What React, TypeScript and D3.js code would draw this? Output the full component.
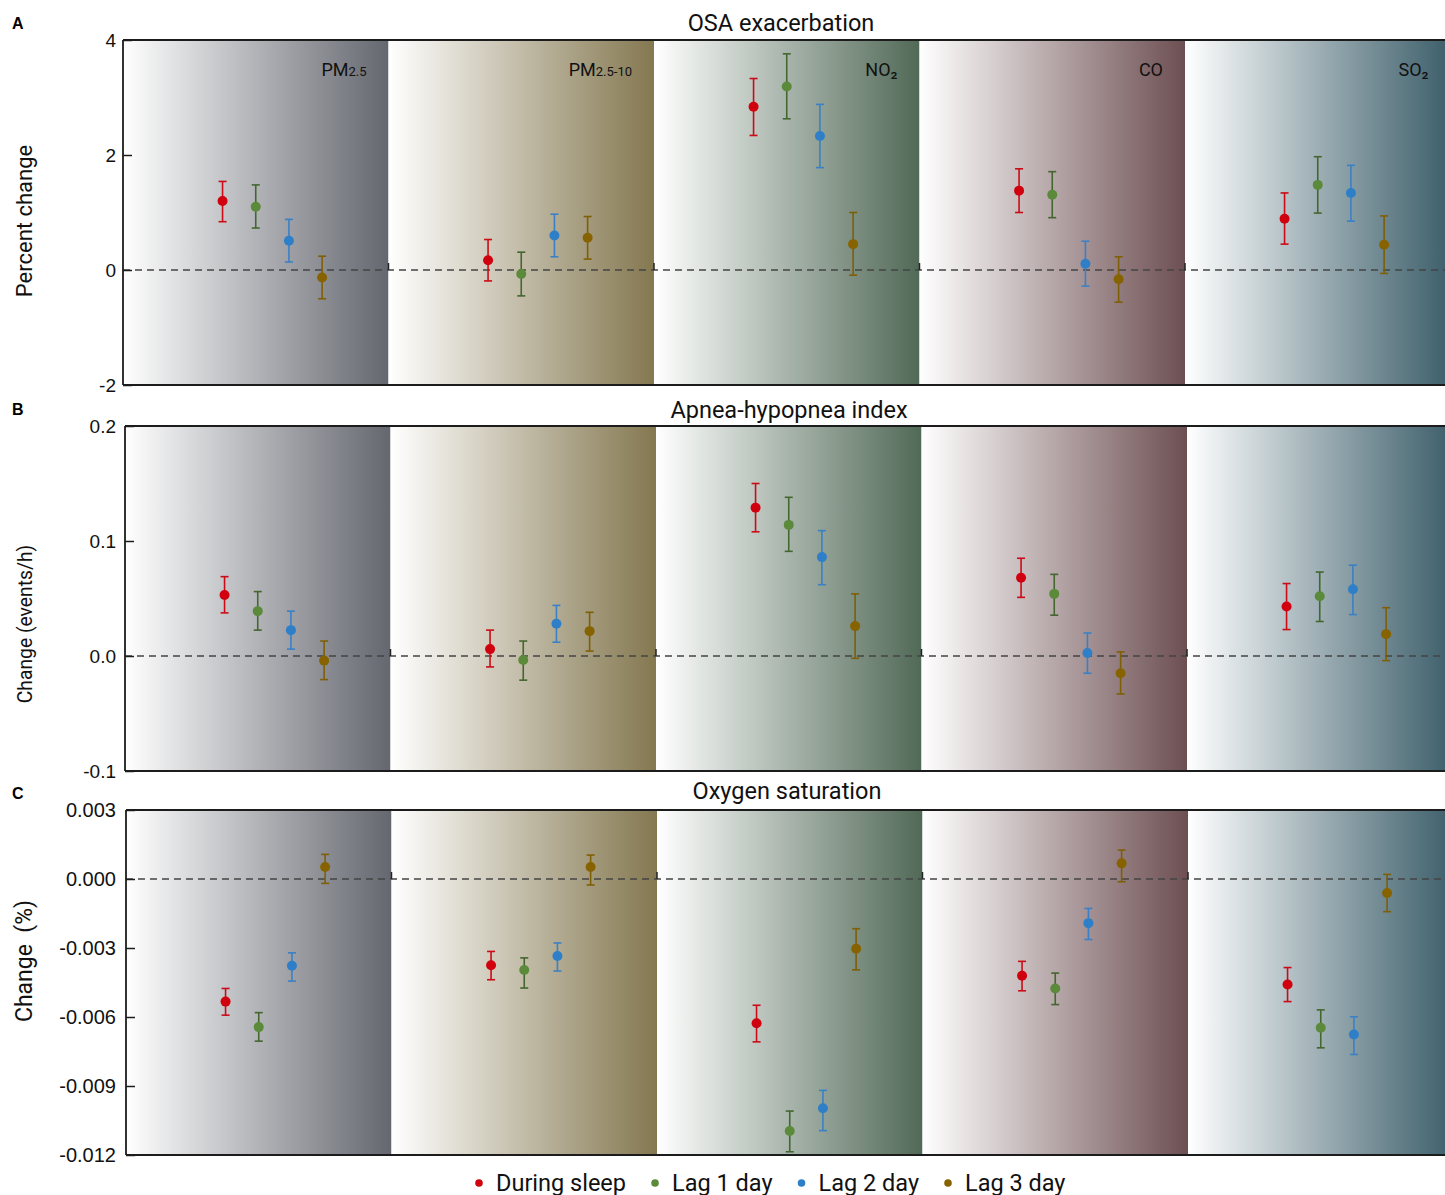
import React, { useRef, useEffect } from "react";
import * as d3 from "d3";

const pollutants = ["PM2.5", "PM2.5-10", "NO2", "CO", "SO2"];
const pollutantMain = ["PM", "PM", "NO", "CO", "SO"];
const pollutantSub = ["2.5", "2.5-10", "₂", "", "₂"];
const lags = ["During sleep", "Lag 1 day", "Lag 2 day", "Lag 3 day"];

// A: OSA exacerbation (percent change), rows = pollutant, cols = lag
const osaEst = [
  [1.2, 1.1, 0.51, -0.13],
  [0.17, -0.07, 0.6, 0.56],
  [2.84, 3.19, 2.33, 0.45],
  [1.38, 1.31, 0.11, -0.16],
  [0.89, 1.48, 1.34, 0.44],
];
const osaLow = [
  [0.84, 0.73, 0.14, -0.5],
  [-0.19, -0.45, 0.23, 0.19],
  [2.34, 2.63, 1.78, -0.09],
  [1.0, 0.91, -0.28, -0.56],
  [0.45, 0.99, 0.85, -0.06],
];
const osaHigh = [
  [1.54, 1.48, 0.88, 0.24],
  [0.53, 0.31, 0.97, 0.93],
  [3.33, 3.76, 2.88, 1.0],
  [1.76, 1.71, 0.5, 0.23],
  [1.34, 1.97, 1.82, 0.94],
];

// B: Apnea-hypopnea index (events/h)
const ahiEst = [
  [0.053, 0.039, 0.0225, -0.004],
  [0.006, -0.0035, 0.028, 0.0216],
  [0.129, 0.114, 0.086, 0.026],
  [0.068, 0.054, 0.0026, -0.015],
  [0.043, 0.052, 0.058, 0.019],
];
const ahiLow = [
  [0.0375, 0.0225, 0.006, -0.0205],
  [-0.0095, -0.021, 0.012, 0.0043],
  [0.108, 0.091, 0.062, -0.002],
  [0.051, 0.0355, -0.015, -0.033],
  [0.023, 0.03, 0.036, -0.004],
];
const ahiHigh = [
  [0.069, 0.056, 0.039, 0.013],
  [0.0225, 0.013, 0.044, 0.038],
  [0.15, 0.138, 0.109, 0.054],
  [0.085, 0.071, 0.02, 0.0035],
  [0.063, 0.073, 0.079, 0.042],
];

// C: Oxygen saturation (%)
const spo2Est = [
  [-0.00533, -0.00644, -0.00377, 0.00052],
  [-0.00375, -0.00396, -0.00335, 0.00052],
  [-0.00627, -0.01096, -0.00997, -0.00303],
  [-0.00421, -0.00476, -0.00192, 0.00068],
  [-0.00459, -0.00647, -0.00676, -0.00061],
];
const spo2Low = [
  [-0.00592, -0.00705, -0.00444, -0.00019],
  [-0.00438, -0.00474, -0.004, -0.00026],
  [-0.00708, -0.01186, -0.01094, -0.00395],
  [-0.00486, -0.00546, -0.00263, -0.00012],
  [-0.00533, -0.00734, -0.00763, -0.00142],
];
const spo2High = [
  [-0.00476, -0.00581, -0.00321, 0.00107],
  [-0.00315, -0.00343, -0.00278, 0.00104],
  [-0.00549, -0.01009, -0.00919, -0.00216],
  [-0.00358, -0.00409, -0.00128, 0.00126],
  [-0.00385, -0.00569, -0.00599, 0.0002],
];

const osaTicks = [-2, 0, 2, 4];
const osaTickLabels = ["-2", "0", "2", "4"];
const ahiTicks = [-0.1, 0, 0.1, 0.2];
const ahiTickLabels = ["-0.1", "0.0", "0.1", "0.2"];
const spo2Ticks = [-0.012, -0.009, -0.006, -0.003, 0, 0.003];
const spo2TickLabels = ["-0.012", "-0.009", "-0.006", "-0.003", "0.000", "0.003"];

const bandColors = ["#64676f", "#847850", "#516957", "#6d4f52", "#3c5e6a"];
const dotColors = ["#d0000f", "#5a8a3a", "#2f7fc8", "#876300"];
const barColors = ["#cc0b17", "#44662f", "#3a80c6", "#7f5f06"];

const W = 1445;
const H = 1195;
const BAND_W = 265.5;
const PANEL_H = 345;

const FONT = "Roboto, 'Liberation Sans', sans-serif";
const TICK_FONT = "'Liberation Sans', Arial, sans-serif";

const panels = [
  {
    key: "A", title: "OSA exacerbation", ylab: "Percent change", ylabSize: 22, ylabY: 221,
    left: 123, top: 40, titleY: 31, titleX: 781, domain: [-2, 4], ticks: osaTicks, tickLabels: osaTickLabels,
    est: osaEst, low: osaLow, high: osaHigh, showBands: true,
  },
  {
    key: "B", title: "Apnea-hypopnea index", ylab: "Change (events/h)", ylabSize: 19.3, ylabY: 624,
    left: 125, top: 426, titleY: 418, titleX: 789, domain: [-0.1, 0.2], ticks: ahiTicks, tickLabels: ahiTickLabels,
    est: ahiEst, low: ahiLow, high: ahiHigh, showBands: false,
  },
  {
    key: "C", title: "Oxygen saturation", ylab: "Change  (%)", ylabSize: 23, ylabY: 961,
    left: 126, top: 810, titleY: 799, titleX: 787, domain: [-0.012, 0.003], ticks: spo2Ticks, tickLabels: spo2TickLabels,
    est: spo2Est, low: spo2Low, high: spo2High, showBands: false,
  },
];

const App = () => {
  const svgRef = useRef<SVGSVGElement | null>(null);

  useEffect(() => {
    const svg = d3.select(svgRef.current);
    svg.selectAll("*").remove();

    // gradients, one per pollutant
    const defs = svg.append("defs");
    bandColors.forEach((c, i) => {
      const g = defs
        .append("linearGradient")
        .attr("id", `band-${i}`)
        .attr("x1", "0%")
        .attr("x2", "100%")
        .attr("y1", "0%")
        .attr("y2", "0%");
      g.append("stop").attr("offset", "0%").attr("stop-color", "#ffffff");
      g.append("stop").attr("offset", "100%").attr("stop-color", c);
    });

    panels.forEach((p) => {
      const bottom = p.top + PANEL_H;
      // 8 units per pollutant, points sit at 3..6
      const x = d3
        .scaleLinear()
        .domain([0, pollutants.length * 8])
        .range([p.left, p.left + pollutants.length * BAND_W]);
      const y = d3.scaleLinear().domain(p.domain).range([bottom, p.top]);

      const g = svg.append("g");

      // background bands
      g.selectAll("rect.band")
        .data(pollutants)
        .enter()
        .append("rect")
        .attr("class", "band")
        .attr("x", (_, i) => x(i * 8))
        .attr("width", x(8) - x(0))
        .attr("y", p.top)
        .attr("height", PANEL_H)
        .attr("fill", (_, i) => `url(#band-${i})`);

      // zero line
      g.append("line")
        .attr("x1", p.left)
        .attr("x2", W)
        .attr("y1", y(0))
        .attr("y2", y(0))
        .attr("stroke", "#444")
        .attr("stroke-width", 1.4)
        .attr("stroke-dasharray", "7,5");

      // little marks at band edges
      g.selectAll("line.edge")
        .data(d3.range(1, pollutants.length))
        .enter()
        .append("line")
        .attr("class", "edge")
        .attr("x1", (d) => x(d * 8))
        .attr("x2", (d) => x(d * 8))
        .attr("y1", y(0) - 7)
        .attr("y2", y(0))
        .attr("stroke", "#222")
        .attr("stroke-width", 1.5);

      // frame: left, top, bottom
      const frame = [
        [p.left, p.top, W, p.top],
        [p.left, p.top, p.left, bottom],
        [p.left, bottom, W, bottom],
      ];
      g.selectAll("line.frame")
        .data(frame)
        .enter()
        .append("line")
        .attr("class", "frame")
        .attr("x1", (d) => d[0])
        .attr("y1", (d) => d[1])
        .attr("x2", (d) => d[2])
        .attr("y2", (d) => d[3])
        .attr("stroke", "#1c1c1c")
        .attr("stroke-width", 1.8);

      // y axis
      const ax = g
        .append("g")
        .attr("transform", `translate(${p.left},0)`)
        .call(
          d3
            .axisLeft(y)
            .tickValues(p.ticks)
            .tickFormat((_, i) => p.tickLabels[i])
            .tickSizeInner(-9)
            .tickSizeOuter(0)
            .tickPadding(p.left - 116)
        );
      ax.select(".domain").remove();
      ax.selectAll(".tick line").attr("stroke", "#1c1c1c").attr("stroke-width", 1.5);
      ax.selectAll(".tick text")
        .attr("font-family", TICK_FONT)
        .attr("font-size", p.key === "C" ? 20 : 19)
        .attr("fill", "#111");

      // panel letter
      g.append("text")
        .attr("x", 12)
        .attr("y", p.top - 11)
        .attr("font-family", TICK_FONT)
        .attr("font-weight", "bold")
        .attr("font-size", 16)
        .text(p.key);

      // title
      g.append("text")
        .attr("x", p.titleX)
        .attr("y", p.titleY)
        .attr("text-anchor", "middle")
        .attr("font-family", FONT)
        .attr("font-size", 23.5)
        .attr("fill", "#111")
        .text(p.title);

      // y label
      g.append("text")
        .attr("transform", `translate(32,${p.ylabY}) rotate(-90)`)
        .attr("text-anchor", "middle")
        .attr("font-family", FONT)
        .attr("font-size", p.ylabSize)
        .attr("fill", "#111")
        .style("white-space", "pre")
        .text(p.ylab);

      // pollutant names
      if (p.showBands) {
        pollutants.forEach((_, i) => {
          const t = g
            .append("text")
            .attr("x", x(i * 8 + 8) - 22)
            .attr("y", p.top + 36)
            .attr("text-anchor", "end")
            .attr("font-family", FONT)
            .attr("font-size", 18)
            .attr("fill", "#111");
          t.append("tspan").text(pollutantMain[i]);
          if (pollutantSub[i]) {
            t.append("tspan")
              .attr("font-size", pollutantSub[i] === "₂" ? 19 : 13)
              .text(pollutantSub[i]);
          }
        });
      }

      // error bars + dots
      const pts = pollutants.flatMap((_, i) =>
        lags.map((__, j) => ({
          i,
          j,
          est: p.est[i][j],
          low: p.low[i][j],
          high: p.high[i][j],
        }))
      );
      const px = (d) => x(d.i * 8 + 3 + d.j);

      const eb = g.selectAll("g.eb").data(pts).enter().append("g").attr("class", "eb");
      eb.append("line")
        .attr("x1", px)
        .attr("x2", px)
        .attr("y1", (d) => y(d.low))
        .attr("y2", (d) => y(d.high))
        .attr("stroke", (d) => barColors[d.j])
        .attr("stroke-width", 1.6);
      ["low", "high"].forEach((k) => {
        eb.append("line")
          .attr("x1", (d) => px(d) - 4)
          .attr("x2", (d) => px(d) + 4)
          .attr("y1", (d) => y(d[k]))
          .attr("y2", (d) => y(d[k]))
          .attr("stroke", (d) => barColors[d.j])
          .attr("stroke-width", 1.6);
      });
      eb.append("circle")
        .attr("cx", px)
        .attr("cy", (d) => y(d.est))
        .attr("r", 5)
        .attr("fill", (d) => dotColors[d.j]);
    });

    // legend
    const leg = svg.append("g");
    let lx = 479;
    lags.forEach((name, j) => {
      leg.append("circle").attr("cx", lx).attr("cy", 1183).attr("r", 3.8).attr("fill", dotColors[j]);
      const t = leg
        .append("text")
        .attr("x", lx + 17)
        .attr("y", 1190.5)
        .attr("font-family", FONT)
        .attr("font-size", 23.5)
        .attr("fill", "#111")
        .text(name);
      const len = (t.node() as SVGTextElement).getComputedTextLength();
      lx = lx + 17 + len + 29;
    });
  }, []);

  return (
    <svg
      ref={svgRef}
      width={W}
      height={H}
      style={{ position: "absolute", left: 0, top: 0, background: "#fff" }}
    />
  );
};

export default App;
